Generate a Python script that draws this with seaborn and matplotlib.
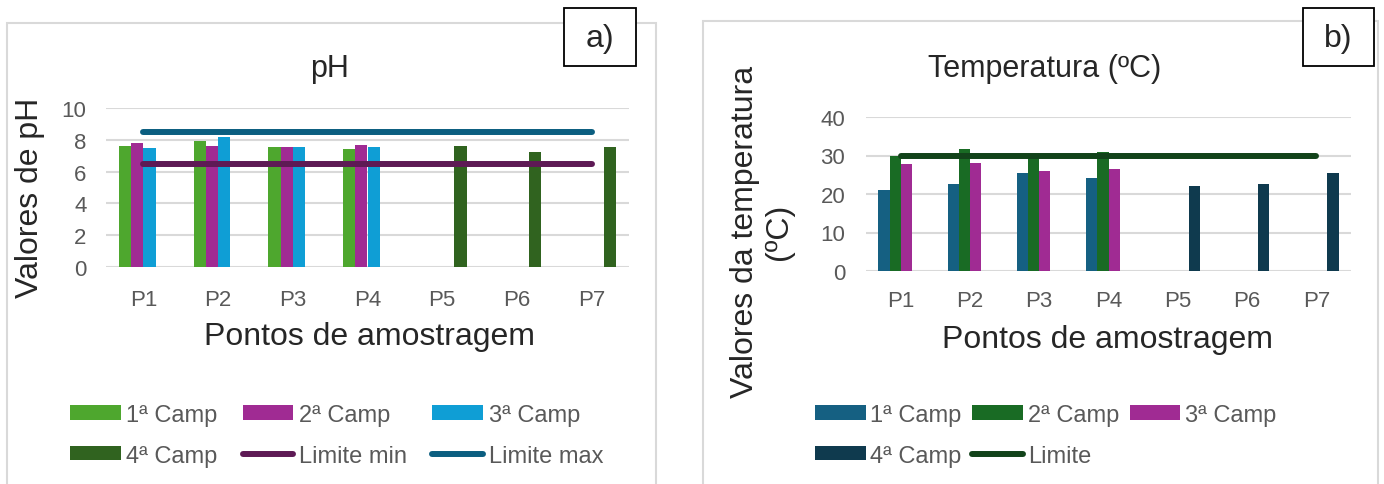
import matplotlib
matplotlib.use("Agg")
import numpy as np
import pandas as pd
import matplotlib.pyplot as plt
import seaborn as sns
from matplotlib.patches import Rectangle, Patch
from matplotlib.lines import Line2D

# data
pontos = ["P1", "P2", "P3", "P4", "P5", "P6", "P7"]
campanhas = ["1ª Camp", "2ª Camp", "3ª Camp", "4ª Camp"]

ph_camp1 = [7.6, 7.95, 7.55, 7.45, None, None, None]
ph_camp2 = [7.8, 7.6, 7.55, 7.7, None, None, None]
ph_camp3 = [7.5, 8.15, 7.55, 7.55, None, None, None]
ph_camp4 = [None, None, None, None, 7.6, 7.25, 7.55]
ph_lim_min = [6.5, 6.5, 6.5, 6.5, 6.5, 6.5, 6.5]
ph_lim_max = [8.5, 8.5, 8.5, 8.5, 8.5, 8.5, 8.5]

temp_camp1 = [21.1, 22.5, 25.4, 24.1, None, None, None]
temp_camp2 = [30.0, 31.6, 29.8, 30.9, None, None, None]
temp_camp3 = [27.8, 28.0, 26.0, 26.5, None, None, None]
temp_camp4 = [None, None, None, None, 22.1, 22.5, 25.4]
temp_limite = [30, 30, 30, 30, 30, 30, 30]

ph_cores = ["#4EA72E", "#A02B93", "#0F9ED5", "#30631F"]
temp_cores = ["#156082", "#196B24", "#A02B93", "#0F3A4E"]
cor_min = "#5E1A55"
cor_max = "#0B5E80"
cor_limite = "#12431A"

W, H = 1384, 485


def fx(x):
    return x / W


def fy(y):
    return 1 - y / H


def long_df(series):
    rows = []
    for camp, vals in zip(campanhas, series):
        for p, v in zip(pontos, vals):
            if v is not None:
                rows.append({"ponto": p, "valor": v, "campanha": camp})
    return pd.DataFrame(rows)


sns.set_theme(style="white")
plt.rcParams["font.family"] = ["Liberation Sans", "DejaVu Sans"]

fig = plt.figure(figsize=(13.84, 4.85), dpi=100)

# panel frames
fig.patches.append(Rectangle((fx(7), fy(520)), fx(656) - fx(7), fy(24) - fy(520),
                             transform=fig.transFigure, fill=False, ec="#d9d9d9", lw=1.5))
fig.patches.append(Rectangle((fx(703), fy(520)), fx(1378) - fx(703), fy(22) - fy(520),
                             transform=fig.transFigure, fill=False, ec="#d9d9d9", lw=1.5))

ax1 = fig.add_axes([fx(106), fy(268), fx(629) - fx(106), fy(109) - fy(268)])
ax2 = fig.add_axes([fx(866), fy(272), fx(1351) - fx(866), fy(118) - fy(272)])


def style_axis(ax, ymax, step, ypad, xpad):
    ax.set_xlim(-0.5, len(pontos) - 0.5)
    ax.set_ylim(0, ymax)
    ax.set_yticks(np.arange(0, ymax + 1, step))
    ax.yaxis.grid(True, color="#d9d9d9", lw=1.5)
    ax.xaxis.grid(False)
    ax.set_axisbelow(True)
    for s in ax.spines.values():
        s.set_visible(False)
    ax.tick_params(axis="y", length=0, pad=ypad, labelsize=16, labelcolor="#595959")
    ax.tick_params(axis="x", length=0, pad=xpad, labelsize=16, labelcolor="#595959")
    ax.set_xlabel("")
    ax.set_ylabel("")


# a) pH
df_ph = long_df([ph_camp1, ph_camp2, ph_camp3, ph_camp4])
sns.barplot(data=df_ph, x="ponto", y="valor", hue="campanha", order=pontos,
            hue_order=campanhas, palette=dict(zip(campanhas, ph_cores)), saturation=1,
            width=0.655, errorbar=None, legend=False, linewidth=0, ax=ax1)
xs = np.arange(len(pontos))
ax1.plot(xs, ph_lim_min, color=cor_min, lw=4.3, solid_capstyle="round", zorder=3)
ax1.plot(xs, ph_lim_max, color=cor_max, lw=4.3, solid_capstyle="round", zorder=3)
style_axis(ax1, 10, 2, 14, 16)

# b) temperatura
df_t = long_df([temp_camp1, temp_camp2, temp_camp3, temp_camp4])
sns.barplot(data=df_t, x="ponto", y="valor", hue="campanha", order=pontos,
            hue_order=campanhas, palette=dict(zip(campanhas, temp_cores)), saturation=1,
            width=0.64, errorbar=None, legend=False, linewidth=0, ax=ax2)
ax2.plot(xs, temp_limite, color=cor_limite, lw=4.3, solid_capstyle="round", zorder=3)
style_axis(ax2, 40, 10, 15, 14)

# titles and axis titles
fig.text(fx(330), fy(69), "pH", ha="center", va="center", fontsize=22)
fig.text(fx(1045), fy(69), "Temperatura (ºC)", ha="center", va="center", fontsize=22)
fig.text(fx(30), fy(198), "Valores de pH", rotation=90, ha="center", va="center", fontsize=23)
fig.text(fx(762), fy(232), "Valores da temperatura\n(ºC)", rotation=90, ha="center",
         va="center", fontsize=23, multialignment="center", linespacing=1.2)
fig.text(fx(370), fy(337), "Pontos de amostragem", ha="center", va="center", fontsize=23)
fig.text(fx(1107), fy(340), "Pontos de amostragem", ha="center", va="center", fontsize=23)

# a) / b) boxes
for x0, x1, lab in [(564, 636, "a)"), (1303, 1374, "b)")]:
    fig.patches.append(Rectangle((fx(x0), fy(67)), fx(x1) - fx(x0), fy(9) - fy(67),
                                 transform=fig.transFigure, fc="white", ec="black", lw=1.3))
    fig.text(fx((x0 + x1) / 2), fy(39), lab, ha="center", va="center", fontsize=23)


# legends
def camp_handle(c):
    return Patch(fc=c, ec="none")


def lim_handle(c):
    return Line2D([], [], color=c, lw=4.3, solid_capstyle="round")


h1 = [camp_handle(ph_cores[0]), camp_handle(ph_cores[3]),
      camp_handle(ph_cores[1]), lim_handle(cor_min),
      camp_handle(ph_cores[2]), lim_handle(cor_max)]
l1 = ["1ª Camp", "4ª Camp", "2ª Camp", "Limite min", "3ª Camp", "Limite max"]
fig.legend(h1, l1, ncol=3, loc="upper left", bbox_to_anchor=(fx(58), fy(393)),
           frameon=False, fontsize=17, handlelength=2.15, handleheight=0.55,
           handletextpad=0.25, columnspacing=1.05, labelspacing=0.8, borderpad=0,
           labelcolor="#595959")

h2 = [camp_handle(temp_cores[0]), camp_handle(temp_cores[3]),
      camp_handle(temp_cores[1]), lim_handle(cor_limite),
      camp_handle(temp_cores[2])]
l2 = ["1ª Camp", "4ª Camp", "2ª Camp", "Limite", "3ª Camp"]
fig.legend(h2, l2, ncol=3, loc="upper left", bbox_to_anchor=(fx(803), fy(393)),
           frameon=False, fontsize=17, handlelength=2.15, handleheight=0.55,
           handletextpad=0.2, columnspacing=0.45, labelspacing=0.8, borderpad=0,
           labelcolor="#595959")

fig.savefig("out.png", dpi=100)
